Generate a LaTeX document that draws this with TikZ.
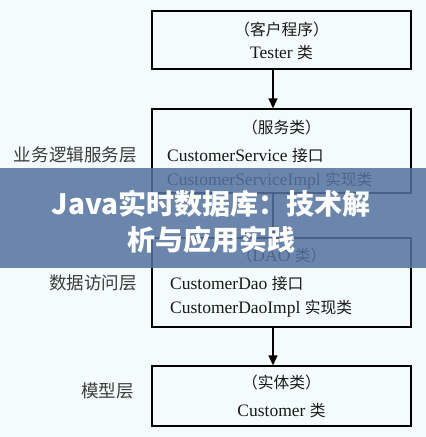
\documentclass[tikz,border=0pt]{standalone}
\usepackage{fontspec}
\setmainfont{Liberation Serif}
\newfontfamily\cjk{Noto Sans CJK SC}[Scale=0.9]
\newfontfamily\bannerfont{Noto Sans CJK SC}
\usetikzlibrary{arrows.meta}
\definecolor{bg}{RGB}{244,251,251}
\definecolor{banner}{RGB}{84,114,160}
\definecolor{lbl}{RGB}{60,60,60}
\definecolor{txt}{RGB}{25,25,25}
\tikzset{
  layerbox/.style={draw=black, line width=1.3pt, minimum width=259pt, inner sep=0pt},
  boxtext/.style={text=txt, font=\fontsize{17.5}{21}\selectfont, inner sep=0pt},
  layerlabel/.style={text=lbl, font=\cjk\fontsize{19.5}{22}\selectfont, anchor=east, inner sep=0pt},
  flow/.style={line width=1.3pt, -{Triangle[length=10pt,width=9pt]}},
  bannertext/.style={text=white, font=\bannerfont\bfseries\fontsize{28}{32}\selectfont, inner sep=0pt}
}
\begin{document}
\begin{tikzpicture}[x=1pt,y=-1pt]
\useasboundingbox (0,0) rectangle (426,437);
\fill[bg] (0,0) rectangle (426,437);

% boxes
\node[layerbox, minimum height=58pt] (b1) at (281.5,40) {};
\node[layerbox, minimum height=84pt] (b2) at (281.5,151) {};
\node[layerbox, minimum height=89pt] (b3) at (281.5,282.5) {};
\node[layerbox, minimum height=60pt] (b4) at (281.5,396) {};

% box texts
\node[boxtext] (t1a) at (281.5,30) {{\cjk （客户程序）}};
\node[boxtext] (t1b) at (281.5,53) {Tester {\cjk 类}};

\node[boxtext] (t2a) at (281.5,128) {{\cjk （服务类）}};
\node[boxtext, anchor=west] (t2b) at (167,156) {CustomerService {\cjk 接口}};
\node[boxtext, anchor=west] (t2c) at (167,181) {CustomerServiceImpl {\cjk 实现类}};

\node[boxtext] (t3a) at (281.5,256) {{\cjk （}DAO {\cjk 类）}};
\node[boxtext, anchor=west] (t3b) at (170,284) {CustomerDao {\cjk 接口}};
\node[boxtext, anchor=west] (t3c) at (170,309) {CustomerDaoImpl {\cjk 实现类}};

\node[boxtext] (t4a) at (281.5,383) {{\cjk （实体类）}};
\node[boxtext] (t4b) at (281.5,411) {Customer {\cjk 类}};

% layer labels
\node[layerlabel] (l2) at (137,155) {业务逻辑服务层};
\node[layerlabel] (l3) at (137,283) {数据访问层};
\node[layerlabel] (l4) at (134,391) {模型层};

% connectors
\coordinate (ax) at (273,0);
\draw[flow] (b1.south -| ax) -- (b2.north -| ax);
\draw[flow] (b2.south -| ax) -- (b3.north -| ax);
\draw[flow] (b3.south -| ax) -- (b4.north -| ax);

% banner
\fill[banner, opacity=0.85] (0,168) rectangle (426,268);
\node[bannertext] (bn1) at (211,204) {Java实时数据库：技术解};
\node[bannertext] (bn2) at (211.5,240) {析与应用实践};
\end{tikzpicture}
\end{document}
